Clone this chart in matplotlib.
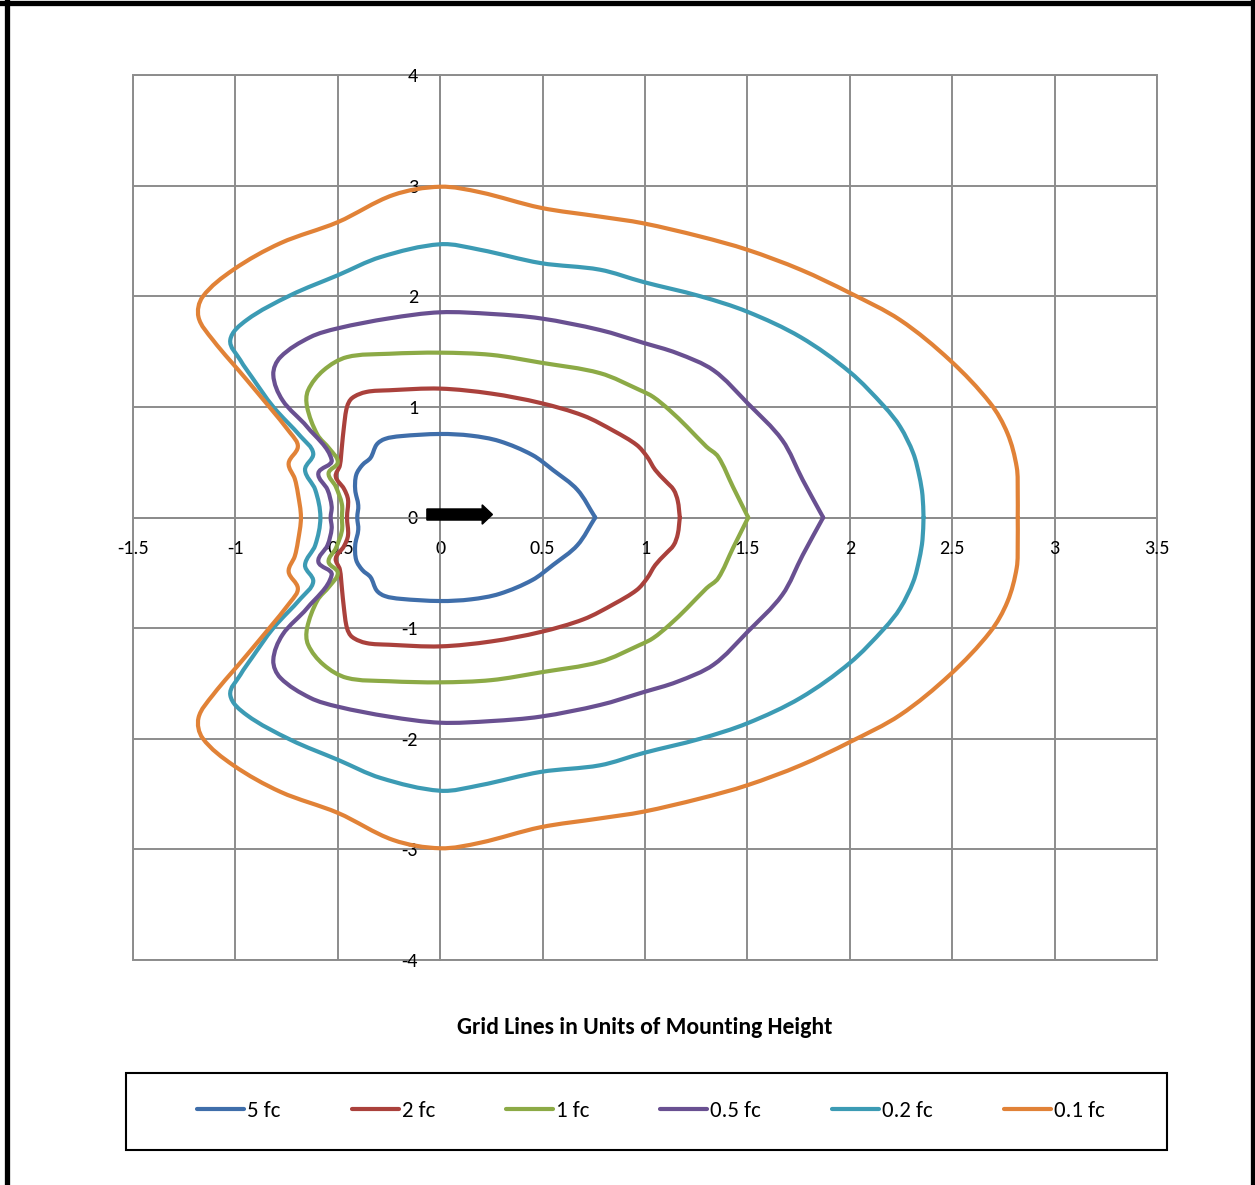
import numpy as np
import matplotlib
matplotlib.use("Agg")
import matplotlib.pyplot as plt
from matplotlib.path import Path
from matplotlib.patches import PathPatch, Rectangle, FancyArrow
from matplotlib.lines import Line2D

plt.rcParams['font.family'] = ['Carlito', 'Lato', 'DejaVu Sans']
plt.rcParams['axes.unicode_minus'] = False

# upper half of each isofootcandle line, from the right crossing of y=0
# round to the left crossing; the lower half is the mirror image
fc5_x = [0.757, 0.67, 0.55, 0.45, 0.29, 0.15, 0.0, -0.195, -0.27, -0.31, -0.34, -0.38, -0.41, -0.415, -0.40, -0.405]
fc5_y = [0.0, 0.25, 0.43, 0.565, 0.69, 0.74, 0.755, 0.735, 0.71, 0.66, 0.54, 0.475, 0.385, 0.25, 0.11, 0.0]

fc2_x = [1.17, 1.16, 1.14, 1.10, 1.05, 1.01, 0.96, 0.85, 0.70, 0.49, 0.25, 0.0, -0.25, -0.36, -0.43, -0.455, -0.47, -0.48, -0.49, -0.51, -0.47, -0.45, -0.455]
fc2_y = [0.0, 0.15, 0.25, 0.33, 0.43, 0.55, 0.655, 0.78, 0.92, 1.035, 1.12, 1.165, 1.15, 1.135, 1.08, 1.0, 0.82, 0.64, 0.47, 0.37, 0.26, 0.16, 0.0]

fc1_x = [1.504, 1.43, 1.357, 1.30, 1.205, 1.12, 1.04, 0.977, 0.78, 0.49, 0.25, 0.0, -0.25, -0.455, -0.57, -0.645, -0.65, -0.60, -0.54, -0.50, -0.545, -0.51, -0.48, -0.48]
fc1_y = [0.0, 0.275, 0.55, 0.64, 0.82, 0.97, 1.09, 1.15, 1.305, 1.40, 1.47, 1.49, 1.48, 1.45, 1.33, 1.15, 1.0, 0.75, 0.62, 0.50, 0.40, 0.28, 0.12, 0.0]

fc05_x = [1.87, 1.77, 1.67, 1.50, 1.335, 1.157, 0.99, 0.78, 0.49, 0.25, 0.0, -0.25, -0.50, -0.635, -0.78, -0.815, -0.77, -0.65, -0.53, -0.595, -0.55, -0.53, -0.535]
fc05_y = [0.0, 0.34, 0.70, 1.035, 1.33, 1.485, 1.58, 1.695, 1.80, 1.84, 1.855, 1.80, 1.71, 1.63, 1.45, 1.29, 1.06, 0.82, 0.52, 0.40, 0.25, 0.10, 0.0]

fc02_x = [2.36, 2.355, 2.34, 2.31, 2.246, 2.17, 2.0, 1.76, 1.50, 1.27, 0.99, 0.78, 0.49, 0.195, 0.0, -0.29, -0.50, -0.73, -0.945, -1.025, -0.975, -0.92, -0.815, -0.68, -0.62, -0.66, -0.61, -0.585]
fc02_y = [0.0, 0.2, 0.37, 0.58, 0.82, 1.0, 1.315, 1.63, 1.86, 2.0, 2.13, 2.24, 2.30, 2.42, 2.47, 2.355, 2.19, 2.01, 1.785, 1.605, 1.42, 1.27, 1.0, 0.73, 0.58, 0.43, 0.25, 0.0]

fc01_x = [2.82, 2.82, 2.815, 2.77, 2.685, 2.49, 2.246, 2.0, 1.76, 1.50, 1.27, 0.99, 0.78, 0.49, 0.195, 0.0, -0.23, -0.50, -0.78, -1.01, -1.16, -1.18, -1.11, -0.945, -0.73, -0.695, -0.74, -0.71, -0.695, -0.68]
fc01_y = [0.0, 0.22, 0.455, 0.76, 1.035, 1.42, 1.785, 2.03, 2.24, 2.42, 2.54, 2.66, 2.72, 2.80, 2.94, 2.99, 2.915, 2.67, 2.48, 2.24, 1.995, 1.81, 1.605, 1.245, 0.76, 0.64, 0.49, 0.35, 0.22, 0.0]

series_labels = ['5 fc', '2 fc', '1 fc', '0.5 fc', '0.2 fc', '0.1 fc']
series_x = [fc5_x, fc2_x, fc1_x, fc05_x, fc02_x, fc01_x]
series_y = [fc5_y, fc2_y, fc1_y, fc05_y, fc02_y, fc01_y]
colors = ['#3F6EAA', '#AA413C', '#8CAA46', '#695091', '#3C9BB4', '#E18237']

x_ticks = [-1.5, -1, -0.5, 0, 0.5, 1, 1.5, 2, 2.5, 3, 3.5]
x_tick_labels = ['-1.5', '-1', '-0.5', '0', '0.5', '1', '1.5', '2', '2.5', '3', '3.5']
y_ticks = [-4, -3, -2, -1, 0, 1, 2, 3, 4]
y_tick_labels = ['-4', '-3', '-2', '-1', '0', '1', '2', '3', '4']

W, H = 1255, 1185
grid_col = '#8c8c8c'
# pixels per data unit, so the smoothing works in screen proportions
sx, sy = 1024 / 5.0, 885 / 8.0


def smooth_path(xs, ys):
    # close the contour by mirroring, then join the points with bezier pieces
    px = list(xs) + [x for x in xs[-2::-1]]
    py = list(ys) + [-y for y in ys[-2::-1]]
    pts = np.column_stack([np.array(px) * sx, np.array(py) * sy])
    n = len(pts)
    tang = np.zeros_like(pts)
    for i in range(n):
        d = pts[min(i + 1, n - 1)] - pts[max(i - 1, 0)]
        if i == 0:
            d = pts[1] - pts[0]
        if i == n - 1:
            d = pts[-1] - pts[-2]
        tang[i] = d / np.hypot(*d)
    verts = [pts[0]]
    codes = [Path.MOVETO]
    for i in range(n - 1):
        seg = np.hypot(*(pts[i + 1] - pts[i])) / 3.0
        verts += [pts[i] + tang[i] * seg, pts[i + 1] - tang[i + 1] * seg, pts[i + 1]]
        codes += [Path.CURVE4] * 3
    verts = np.array(verts) / [sx, sy]
    return Path(verts, codes)


fig = plt.figure(figsize=(W / 100, H / 100), dpi=100)
ax = fig.add_axes([133 / W, 1 - 960 / H, 1024 / W, 885 / H])
ax.set_xlim(-1.5, 3.5)
ax.set_ylim(-4, 4)
ax.set_xticks(x_ticks)
ax.set_xticklabels(x_tick_labels)
ax.set_yticks(y_ticks)
ax.set_yticklabels(y_tick_labels)
ax.grid(True, color=grid_col, lw=1.4)
ax.set_axisbelow(True)

ax.spines['left'].set_position(('data', 0))
ax.spines['bottom'].set_position(('data', 0))
ax.spines['top'].set_visible(False)
ax.spines['right'].set_visible(False)
for s in ['left', 'bottom']:
    ax.spines[s].set_color(grid_col)
    ax.spines[s].set_linewidth(1.4)
ax.tick_params(axis='both', length=0, labelsize=14.5)
ax.tick_params(axis='y', pad=16)
ax.tick_params(axis='x', pad=16)

ax.add_patch(Rectangle((0, 0), 1, 1, transform=ax.transAxes, fill=False,
                       ec=grid_col, lw=1.4, clip_on=False, zorder=0.5))

handles = []
for xs, ys, c, lab in zip(series_x, series_y, colors, series_labels):
    ax.add_patch(PathPatch(smooth_path(xs, ys), fill=False, ec=c, lw=3,
                           capstyle='round', joinstyle='round', zorder=3))
    handles.append(Line2D([], [], color=c, lw=3, solid_capstyle='round', label=lab))

# direction arrow at the luminaire
arrow_x, arrow_y, arrow_len = -0.065, 0.027, 0.32
ax.add_patch(FancyArrow(arrow_x, arrow_y, arrow_len, 0, width=0.1, head_width=0.175,
                        head_length=0.05, length_includes_head=True, color='black', zorder=4))

fig.text(645 / W, 1 - 1028 / H, 'Grid Lines in Units of Mounting Height',
         ha='center', va='center', fontsize=17, fontweight='bold')

# legend box
fig.add_artist(Rectangle((126 / W, 1 - 1150 / H), (1167 - 126) / W, 77 / H,
                         transform=fig.transFigure, fill=False, ec='black', lw=1.5))
fig.legend(handles=handles, loc='center', bbox_to_anchor=(651 / W, 1 - 1111 / H),
           ncol=6, frameon=False, fontsize=16.5, handlelength=2.05,
           handletextpad=0.13, columnspacing=3.1)

# outer border of the chart
fig.add_artist(Line2D([6.5 / W, 6.5 / W], [0, 1], transform=fig.transFigure, color='black', lw=3.8))
fig.add_artist(Line2D([0, 1], [1 - 3 / H, 1 - 3 / H], transform=fig.transFigure, color='black', lw=3.8))
fig.add_artist(Line2D([1252.5 / W, 1252.5 / W], [0, 1], transform=fig.transFigure, color='black', lw=3.8))

fig.savefig('out.png', dpi=100)
